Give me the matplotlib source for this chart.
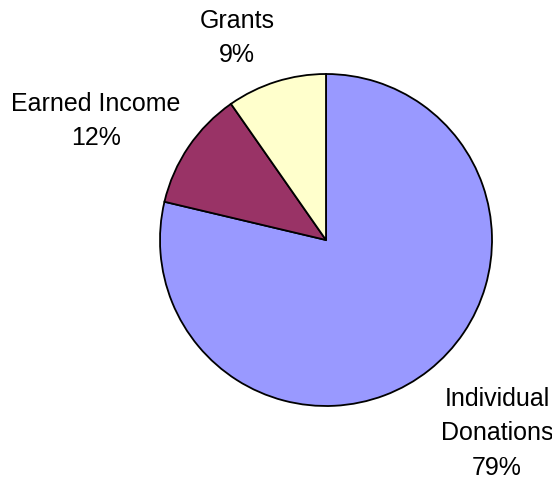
import matplotlib.pyplot as plt

# Funding sources share (slice sizes, labels rounded)
labels = ["Individual\nDonations", "Earned Income", "Grants"]
shares = [78.7, 11.6, 9.7]
pct_labels = ["79%", "12%", "9%"]
colors = ["#9999FF", "#993366", "#FFFFCC"]

fig = plt.figure(figsize=(5.52, 4.82), dpi=100)
cx, cy, r = 326, 240, 166
ax = fig.add_axes([(cx - r) / 552, (482 - cy - r) / 482, 2 * r / 552, 2 * r / 482])

wedges, _ = ax.pie(shares, colors=colors, startangle=90, counterclock=False,
                   radius=1.0, wedgeprops={"edgecolor": "black", "linewidth": 1.3})
ax.set_xlim(-1, 1)
ax.set_ylim(-1, 1)
ax.set_aspect("equal")
ax.axis("off")

# label positions in data units around the pie
label_pos = [(1.030, -1.163), (-1.386, 0.717), (-0.536, 1.217)]
for lab, pct, (x, y) in zip(labels, pct_labels, label_pos):
    ax.text(x, y, lab + "\n" + pct, ha="center", va="center",
            fontsize=18, family="Liberation Sans", linespacing=1.55,
            clip_on=False)

fig.savefig("out.png", dpi=100)
